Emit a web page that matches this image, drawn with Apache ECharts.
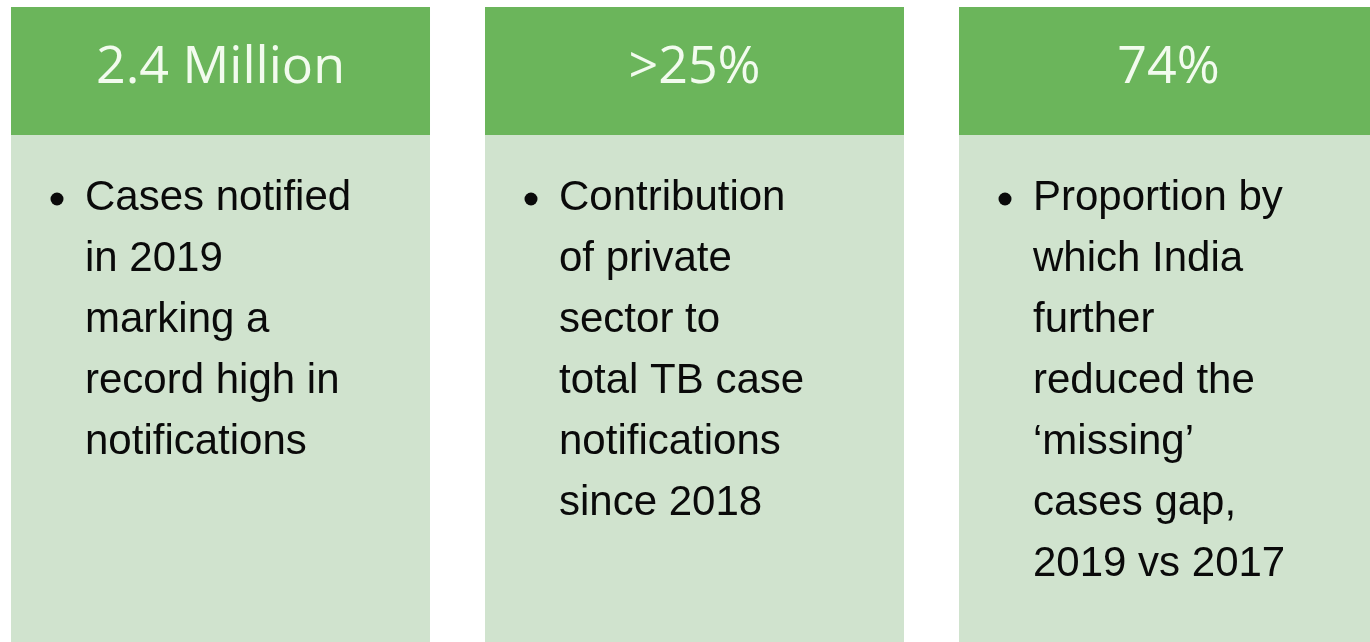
<!DOCTYPE html>
<html>
<head>
<meta charset="utf-8">
<script src="https://cdn.jsdelivr.net/npm/echarts@6/dist/echarts.min.js"></script>
<style>
html,body{margin:0;padding:0;background:#ffffff;}
#chart{width:1370px;height:642px;}
</style>
</head>
<body>
<div id="chart"></div>
<script>
// ---- data ----
const cardIndex = [0, 1, 2];
const headlines = ['2.4 Million', '>25%', '74%'];
const notifiedLines = ['Cases notified', 'in 2019', 'marking a', 'record high in', 'notifications'];
const privateLines = ['Contribution', 'of private', 'sector to', 'total TB case', 'notifications', 'since 2018'];
const missingLines = ['Proportion by', 'which India', 'further', 'reduced the', '\u2018missing\u2019', 'cases gap,', '2019 vs 2017'];
const descriptions = [notifiedLines, privateLines, missingLines];

const chart = echarts.init(document.getElementById('chart'), null, {renderer: 'canvas'});

const HEADER_TOP = 7, HEADER_BOTTOM = 135, BODY_BOTTOM = 642;
const GAP = 55;
const TEXT_OFFSET = 74, BULLET_OFFSET = 46;
const LINE0 = 198, LINE_H = 61;

function renderItem(params, api) {
  const idx = api.value(0);
  const center = api.coord([idx, 0])[0];
  const band = api.size([1, 0])[0];
  const w = band - GAP;
  const left = center - w / 2;
  const lines = descriptions[idx];
  const children = [
    {type: 'rect', shape: {x: left, y: HEADER_BOTTOM, width: w, height: BODY_BOTTOM - HEADER_BOTTOM},
     style: {fill: '#D0E3CE'}},
    {type: 'rect', shape: {x: left, y: HEADER_TOP, width: w, height: HEADER_BOTTOM - HEADER_TOP},
     style: {fill: '#6BB55B'}},
    {type: 'text', x: center, y: 68,
     style: {text: headlines[idx], fill: '#F2FBEE', fontFamily: 'Open Sans', fontSize: 52,
             align: 'center', verticalAlign: 'middle'}},
    {type: 'circle', shape: {cx: left + BULLET_OFFSET, cy: LINE0 + 1, r: 6.5},
     style: {fill: '#0a0a0a'}}
  ];
  lines.forEach(function (t, j) {
    children.push({type: 'text', x: left + TEXT_OFFSET, y: LINE0 + j * LINE_H,
      style: {text: t, fill: '#0a0a0a', fontFamily: 'Liberation Sans', fontSize: 42,
              align: 'left', verticalAlign: 'middle'}});
  });
  return {type: 'group', children: children};
}

chart.setOption({
  animation: false,
  grid: {left: 0, right: 0, top: 0, bottom: 0},
  xAxis: {type: 'value', min: -0.4652, max: 2.4251, show: false},
  yAxis: {type: 'value', min: 0, max: 1, show: false},
  series: [{
    type: 'custom',
    renderItem: renderItem,
    data: cardIndex.map(function (i) { return [i, 1]; }),
    clip: false
  }]
});
</script>
</body>
</html>
